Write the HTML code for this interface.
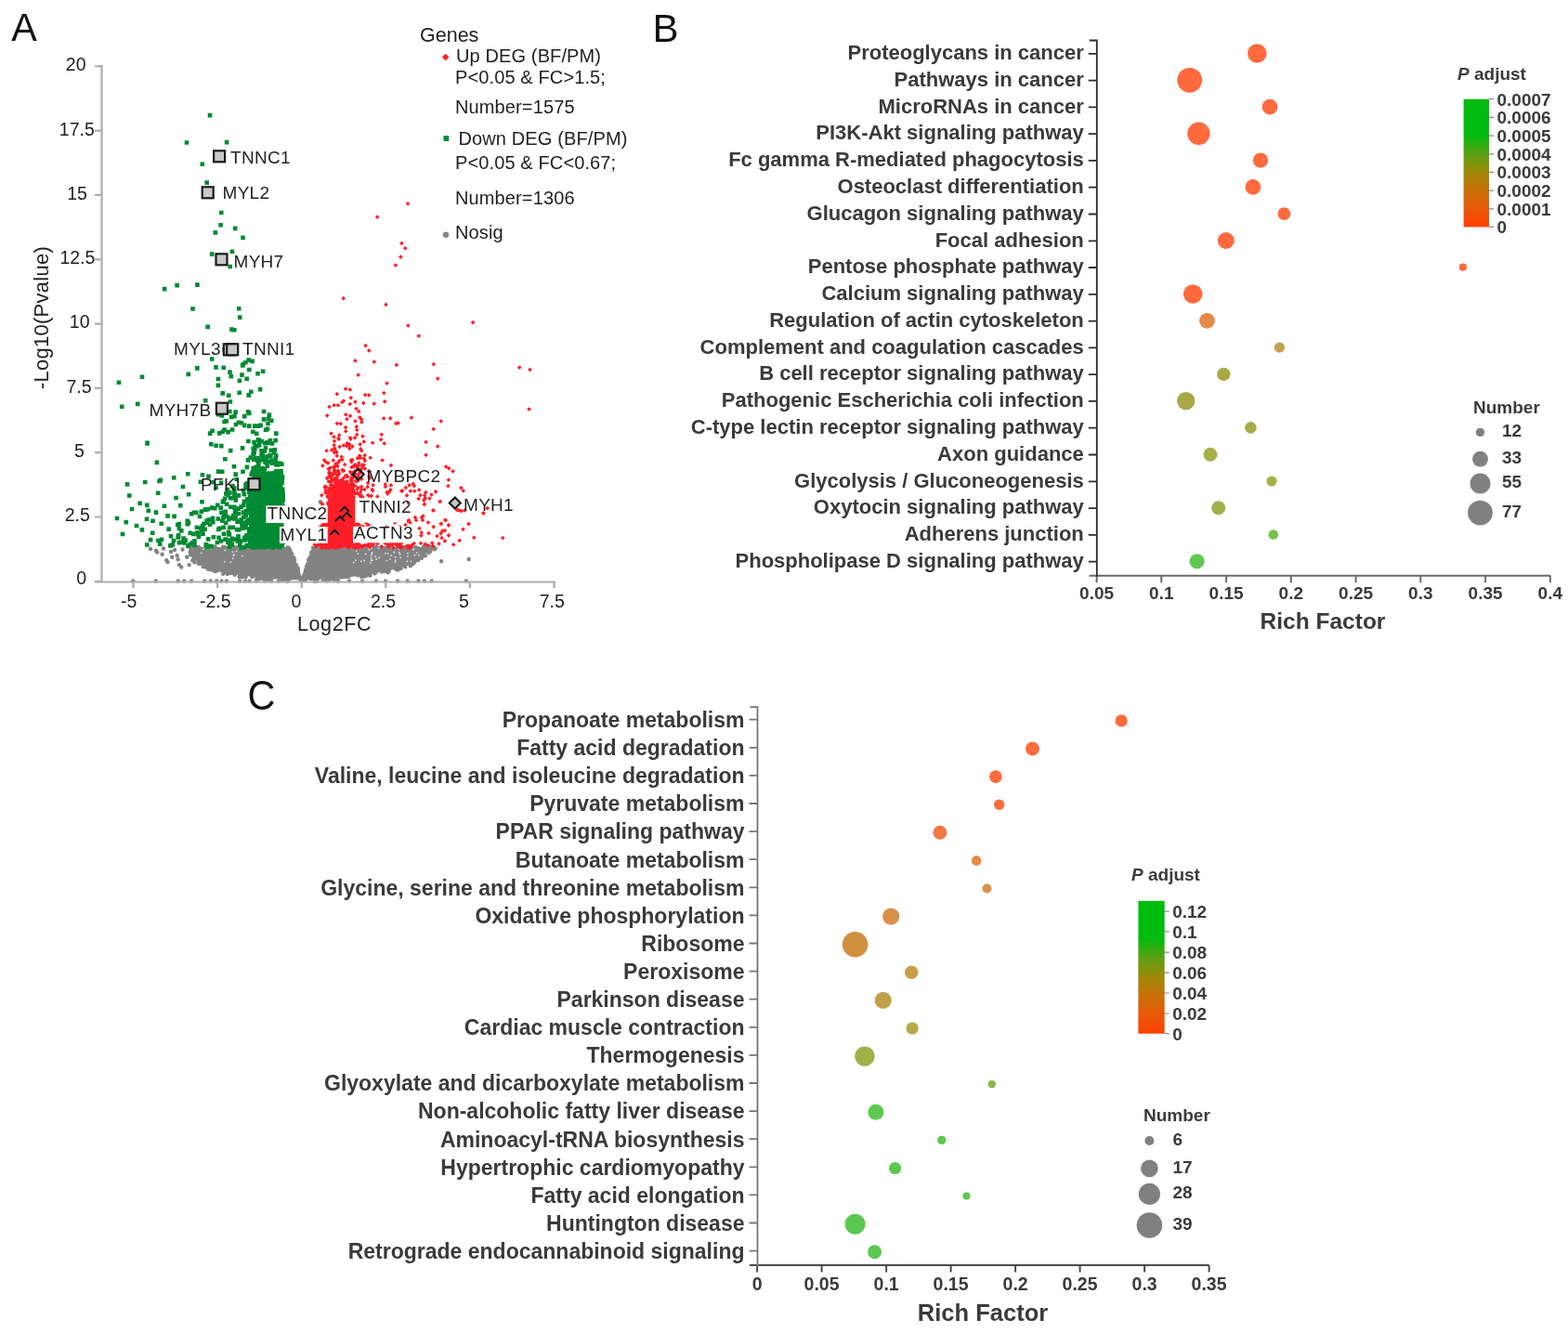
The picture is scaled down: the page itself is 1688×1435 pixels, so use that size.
<!DOCTYPE html>
<html><head><meta charset="utf-8"><title>Figure</title>
<style>html,body{margin:0;padding:0;background:#fff;}svg{display:block;}</style></head>
<body><div id="fig"><svg width="1688" height="1435" viewBox="0 0 1688 1435" font-family="Liberation Sans, Arial, sans-serif"><text transform="translate(12.3,44) scale(0.96,1)" font-size="43" fill="#111">A</text><text x="702.5" y="45" font-size="42" fill="#111">B</text><text transform="translate(266.6,763.6) scale(0.93,1)" font-size="44.5" fill="#111">C</text><path d="M208.0 589.0 313.0 589.0 324.7 620.5 336.5 589.0 468.0 589.0 468.0 589.0 463.6 592.3 459.2 595.5 454.8 598.7 450.4 601.9 446.0 605.0 441.6 608.1 437.2 609.6 432.7 610.7 428.3 611.8 423.9 612.9 419.5 613.9 415.1 614.8 410.7 615.7 406.3 616.6 401.9 617.4 397.5 618.1 393.1 618.9 388.7 619.5 384.3 620.2 379.9 620.8 375.5 621.3 371.1 621.8 366.6 622.3 362.2 622.7 357.8 623.0 353.4 623.3 349.0 623.6 344.6 623.8 340.2 624.0 335.8 624.2 331.4 624.2 327.0 624.3 322.6 624.3 318.2 624.3 313.8 624.2 309.4 624.0 304.9 623.8 300.5 623.6 296.1 623.4 291.7 623.0 287.3 622.7 282.9 622.3 278.5 621.8 274.1 621.3 269.7 620.8 265.3 620.2 260.9 619.6 256.5 618.9 252.1 618.2 247.7 617.4 243.3 616.6 238.8 615.7 234.4 614.8 230.0 613.8 225.6 611.6 221.2 609.4 216.8 607.1 212.4 604.8 208.0 602.5Z" fill="#838383"/><path d="M442.8 590.7h0M284.5 589.3h0M422.6 588.5h0M285.3 590.1h0M468.8 590.4h0M467.1 590.7h0M367.3 589.1h0M341.4 588.6h0M371.7 591.7h0M270.6 590.2h0M388.4 589.2h0M206.0 589.8h0M275.9 589.0h0M429.5 590.3h0M229.2 591.1h0M435.9 590.3h0M220.7 590.6h0M244.8 589.6h0M464.4 589.8h0M374.1 590.6h0M383.0 589.3h0M380.5 591.6h0M243.5 590.5h0M351.4 591.7h0M375.0 591.6h0M437.2 588.6h0M290.4 590.4h0M303.6 588.6h0M461.3 588.9h0M343.8 590.0h0M361.4 589.7h0M342.6 589.7h0M404.5 588.5h0M371.5 588.5h0M397.4 590.3h0M301.2 589.2h0M456.3 589.7h0M464.8 590.1h0M442.6 590.3h0M449.5 589.9h0M418.6 589.4h0M310.5 589.7h0M234.8 591.4h0M362.6 590.2h0M459.8 589.6h0M373.3 590.7h0M398.4 591.4h0M417.5 591.7h0M447.6 590.3h0M210.4 588.6h0M254.7 589.4h0M361.5 588.6h0M210.6 590.9h0M347.7 591.8h0M366.8 590.8h0M215.5 590.5h0M431.3 591.9h0M289.3 589.7h0M416.3 590.7h0M416.2 591.5h0M438.9 591.2h0M374.3 590.5h0M380.2 588.8h0M417.9 591.4h0M434.8 591.0h0M212.1 589.1h0M272.0 589.8h0M231.8 590.8h0M380.5 589.0h0M303.5 589.8h0M270.6 589.3h0M226.6 590.1h0M284.4 590.5h0M239.7 591.2h0M286.2 589.4h0M254.6 590.7h0M304.5 591.6h0M397.7 588.8h0M383.7 591.4h0M342.5 588.7h0M275.6 589.2h0M442.6 591.1h0M416.9 589.1h0M410.9 591.5h0M253.9 590.7h0M396.1 591.2h0M348.7 591.5h0M396.2 590.4h0M448.7 591.4h0M393.9 589.0h0M237.7 591.7h0M235.9 592.0h0M447.3 589.2h0M222.9 591.2h0M288.2 588.6h0M309.4 589.4h0M213.8 588.9h0M251.7 588.9h0M253.7 590.2h0M344.6 589.4h0M371.6 590.3h0M414.6 589.9h0M241.1 589.1h0M454.5 591.9h0M260.1 591.9h0M447.5 590.2h0M364.0 589.6h0M424.7 591.2h0M430.2 591.0h0M284.9 591.1h0M341.3 589.0h0M357.5 591.9h0M417.5 589.5h0M456.9 590.8h0M388.4 590.0h0M382.5 589.7h0M408.8 590.4h0M398.7 590.3h0M224.7 590.4h0M256.8 589.3h0M351.7 591.0h0M369.4 590.1h0M375.1 590.9h0M310.0 590.5h0M294.6 590.3h0M428.9 589.8h0M393.9 590.1h0M433.0 589.9h0M381.2 590.5h0M282.6 589.5h0M298.4 592.0h0M304.9 591.6h0M434.6 588.8h0M257.5 590.2h0M424.3 591.4h0M258.4 590.4h0M409.2 591.0h0M421.6 591.1h0M386.0 588.7h0M304.8 590.8h0M286.1 589.5h0M256.8 591.0h0M408.6 589.6h0M378.9 591.7h0M403.8 591.2h0M241.6 589.0h0M459.9 589.5h0M248.7 589.1h0M415.0 589.4h0M382.1 591.6h0M364.1 590.8h0M457.6 589.2h0M288.5 588.9h0M381.5 590.6h0M457.4 590.5h0M340.9 589.7h0M388.9 591.0h0M405.2 591.5h0M240.0 588.8h0M443.1 589.5h0M428.2 613.6h0M312.0 622.4h0M208.8 601.6h0M411.0 615.6h0M271.3 621.1h0M244.8 617.9h0M414.3 614.7h0M385.1 618.6h0M262.8 619.3h0M277.0 623.6h0M450.3 602.9h0M277.3 620.2h0M389.2 620.7h0M241.4 615.5h0M418.3 615.3h0M238.3 613.7h0M341.1 625.5h0M217.1 605.9h0M349.9 623.4h0M426.4 612.9h0M229.8 613.7h0M278.8 620.5h0M405.3 615.3h0M364.9 621.6h0M288.7 621.0h0M370.3 620.8h0M325.3 622.8h0M430.5 611.2h0M283.6 621.8h0M403.5 617.4h0M372.0 620.8h0M399.0 616.0h0M305.6 623.2h0M395.0 619.6h0M388.2 618.6h0M308.0 623.6h0M214.8 607.1h0M456.4 597.2h0M392.1 620.6h0M260.8 621.2h0M396.5 617.5h0M279.9 622.9h0M329.1 623.3h0M429.9 610.0h0M323.6 624.1h0M282.3 622.6h0M286.8 624.4h0M227.9 611.3h0M264.6 621.0h0M277.9 621.7h0M252.6 616.8h0M224.3 612.8h0M328.2 625.1h0M263.3 618.4h0M398.6 619.6h0M446.0 603.4h0M278.4 620.2h0M355.6 622.5h0M338.7 625.8h0M227.4 610.6h0M240.2 617.7h0M436.3 610.3h0M330.3 622.5h0M415.6 615.0h0M225.2 611.2h0M361.5 623.0h0M431.3 612.1h0M431.7 611.7h0M209.5 605.3h0M342.6 622.6h0M303.2 625.0h0M404.1 616.6h0M226.9 613.4h0M276.4 623.2h0M417.7 616.2h0M329.1 623.3h0M324.9 624.1h0M457.9 598.2h0M290.5 624.7h0M218.8 607.6h0M309.2 625.8h0M247.6 617.0h0M229.1 612.8h0M354.5 624.3h0M454.0 599.2h0M357.5 622.8h0M375.0 620.9h0M291.5 622.8h0M355.3 621.8h0M402.1 615.6h0M360.0 623.9h0M415.1 615.1h0M350.0 624.2h0M259.1 620.5h0M358.3 621.9h0M334.7 623.1h0M250.8 617.1h0M367.7 621.4h0M418.8 615.1h0M242.9 616.0h0M348.6 622.9h0M397.3 618.7h0M312.0 622.9h0M277.7 620.2h0M304.0 624.6h0M347.8 624.7h0M385.2 619.2h0M352.3 624.0h0M235.6 613.2h0M419.0 613.6h0M446.4 605.0h0M234.1 613.8h0M272.4 620.5h0M252.8 618.7h0M427.1 612.5h0M442.9 605.8h0M219.4 609.3h0M293.8 621.5h0M257.7 621.0h0M329.1 623.1h0M226.1 604.8h0M205.1 597.2h0M207.3 603.4h0M207.1 597.3h0M214.5 590.6h0M205.8 594.1h0M223.5 603.3h0M231.7 588.4h0M218.6 610.0h0M231.0 594.8h0M220.2 596.7h0M207.9 602.1h0M220.1 602.3h0M233.5 614.6h0M229.5 593.9h0M224.8 600.0h0M220.1 598.7h0M226.6 596.0h0M232.8 604.9h0M221.3 610.6h0M207.1 597.8h0M220.6 605.4h0M213.7 602.5h0M205.4 592.0h0M217.9 599.8h0M213.7 606.6h0M232.1 601.0h0M207.6 594.0h0M214.5 604.6h0M230.9 600.0h0M226.9 609.5h0M228.4 599.6h0M232.6 596.0h0M221.5 589.4h0M233.1 611.0h0M231.8 596.1h0M227.5 591.3h0M220.4 592.1h0M228.1 600.9h0M231.1 610.0h0M207.6 596.1h0M233.5 604.4h0M233.9 601.6h0M229.9 591.6h0M228.6 590.4h0M231.3 615.0h0M231.6 591.6h0M220.0 591.5h0M234.7 601.8h0M232.4 602.3h0M221.7 595.3h0M226.4 590.3h0M205.0 595.2h0M214.8 598.2h0M221.0 591.5h0M234.2 607.8h0M217.4 601.1h0M213.4 601.8h0M218.2 592.2h0M230.4 611.4h0M456.3 594.3h0M442.0 592.8h0M442.7 603.8h0M463.2 593.4h0M441.8 609.3h0M462.3 594.3h0M455.6 595.7h0M456.0 588.4h0M442.4 597.3h0M451.6 590.9h0M450.2 590.8h0M444.5 607.0h0M444.3 605.9h0M447.1 603.5h0M440.7 597.5h0M452.9 592.5h0M442.9 592.5h0M461.5 595.1h0M450.5 596.1h0M451.8 599.8h0M456.2 596.5h0M443.3 590.5h0M445.1 601.3h0M460.9 590.4h0M462.9 588.3h0M442.2 607.1h0M443.3 593.6h0M454.1 597.4h0M455.3 594.6h0M449.9 592.3h0M446.1 596.2h0M467.2 591.3h0M447.6 589.9h0M446.4 592.6h0M454.0 600.8h0M455.4 594.3h0M452.3 591.9h0M442.5 594.6h0M446.9 591.9h0M442.0 595.9h0M168.0 592.7h0M169.2 594.5h0M174.6 596.8h0M179.3 603.3h0M180.5 605.1h0M184.0 593.9h0M185.2 599.8h0M190.6 598.0h0M191.7 602.2h0M192.9 608.1h0M195.3 610.5h0M196.5 591.5h0M201.2 599.8h0M203.6 608.1h0M204.8 593.9h0M207.1 596.2h0M344.9 540.2h0M475.1 604.3h0M504.7 602.0h0M162.0 591.0h0M176.0 590.5h0M188.0 592.0h0M143.2 625.5h0M167.7 625.5h0M191.7 625.5h0M198.3 625.5h0M206.0 625.5h0M220.2 625.5h0M226.7 625.5h0M233.2 625.5h0M238.5 625.5h0M243.9 625.5h0M258.1 625.5h0M264.0 625.5h0M268.7 625.5h0M275.9 625.5h0M285.0 625.5h0M292.0 625.5h0M300.0 625.5h0M310.0 625.5h0M340.0 625.5h0M352.0 625.5h0M364.0 625.5h0M376.0 625.5h0M390.0 625.5h0M405.0 625.5h0M415.0 625.5h0M428.0 625.5h0M438.6 625.5h0M450.4 625.5h0M456.9 625.5h0M464.7 625.5h0M501.9 625.5h0M333.6 602.5h0M313.9 597.6h0M316.4 600.5h0M335.4 599.0h0M333.5 600.3h0M331.1 607.6h0M332.7 603.9h0M335.5 594.9h0M320.4 612.9h0M316.4 604.4h0M332.1 602.8h0M319.3 610.4h0M320.6 611.6h0M319.8 614.5h0M329.2 613.3h0M319.0 609.1h0M318.5 610.6h0M312.1 593.7h0M330.2 610.0h0M314.3 596.6h0M335.6 596.7h0M312.0 592.6h0M315.3 600.9h0M337.0 589.6h0M330.9 608.7h0M319.2 611.4h0M320.0 612.3h0M312.0 592.9h0M318.8 608.2h0M321.0 614.1h0M337.3 590.1h0M335.1 594.8h0M313.9 597.0h0M317.1 602.9h0M335.7 594.2h0M332.6 605.2h0M335.1 599.3h0M319.1 608.7h0M316.5 604.9h0M330.0 609.6h0" stroke="#838383" stroke-width="4.4" stroke-linecap="round" fill="none"/><path d="M429.8 591.5h0M446.4 597.7h0M421.4 598.0h0M393.7 596.5h0M397.5 591.8h0M400.4 595.0h0M416.5 603.6h0M397.4 591.1h0M430.7 596.6h0M388.8 604.3h0M399.8 603.2h0M407.7 590.1h0M422.4 590.2h0M438.4 604.4h0M399.7 600.6h0M383.7 593.1h0M398.6 605.8h0M380.6 605.6h0M392.2 603.4h0M439.0 598.9h0M400.5 596.1h0M438.9 595.8h0M448.8 594.8h0M424.3 594.5h0M442.6 604.3h0M450.9 597.4h0M408.2 600.2h0M425.6 599.7h0M425.2 605.1h0M425.7 603.2h0M414.9 595.7h0M399.7 590.1h0M445.1 591.7h0M404.2 599.1h0M419.9 602.1h0M424.1 594.3h0M431.2 600.3h0M445.4 591.1h0M405.2 602.0h0M383.0 603.2h0M400.8 603.2h0M429.8 594.9h0M417.8 595.9h0M399.6 597.9h0M385.4 596.1h0M251.9 597.1h0M261.0 598.4h0M251.4 598.1h0M226.9 590.4h0M250.7 601.2h0M254.6 593.5h0M223.6 591.0h0M248.4 605.1h0M216.6 595.4h0M257.0 590.7h0M241.7 604.8h0M242.2 592.5h0M218.7 591.2h0M250.3 594.2h0M261.8 590.2h0" stroke="#ffffff" stroke-width="1.8" stroke-linecap="round" fill="none" opacity="0.8"/><path d="M357 522L368 516L378 521L380 589L346 589L349 562L354 540Z" fill="#ff1e27"/><path transform="rotate(45)" d="M616.1 91.2h0M661.6 166.0h0M662.3 110.0h0M639.4 132.7h0M687.1 146.2h0M651.3 127.4h0M662.7 128.3h0M632.6 113.7h0M639.6 128.2h0M663.3 150.1h0M599.1 103.7h0M634.0 88.0h0M652.4 116.4h0M630.8 108.8h0M666.0 139.6h0M653.4 116.2h0M651.6 127.5h0M677.1 145.5h0M659.1 119.3h0M635.5 90.3h0M627.2 108.7h0M664.3 143.7h0M625.7 114.0h0M662.0 172.2h0M675.0 138.7h0M616.8 116.4h0M605.2 73.8h0M623.1 122.5h0M646.8 124.9h0M677.2 148.9h0M637.7 138.8h0M663.6 127.0h0M630.3 119.5h0M648.9 144.7h0M666.3 107.1h0M657.7 146.7h0M630.8 128.7h0M624.1 121.6h0M635.0 136.2h0M645.3 123.0h0M649.7 130.5h0M654.7 162.9h0M664.7 151.4h0M648.4 138.8h0M649.3 103.1h0M650.5 135.9h0M677.6 144.3h0M658.5 161.8h0M639.8 99.5h0M658.4 135.2h0M646.5 104.8h0M651.1 112.9h0M635.7 132.3h0M597.1 103.4h0M670.9 158.4h0M660.2 152.2h0M618.4 67.9h0M640.2 105.3h0M632.1 131.3h0M658.3 110.1h0M586.7 78.3h0M657.1 133.7h0M666.4 124.7h0M641.0 128.8h0M660.3 156.7h0M684.6 147.3h0M604.1 96.8h0M656.3 158.0h0M666.4 141.7h0M658.4 114.4h0M622.5 121.6h0M658.2 137.5h0M658.3 122.0h0M648.4 160.0h0M676.6 149.4h0M655.6 116.8h0M623.2 87.9h0M643.6 98.6h0M613.7 105.1h0M631.4 96.1h0M659.7 167.3h0M650.3 148.8h0M630.7 78.3h0M642.1 130.2h0M644.9 135.1h0M670.7 152.3h0M667.2 163.1h0M649.9 110.9h0M646.9 133.7h0M645.1 124.6h0M654.3 152.0h0M659.0 137.8h0M599.8 66.6h0M657.3 142.1h0M669.5 156.1h0M635.7 132.6h0M637.6 138.9h0M617.5 105.1h0M658.7 139.8h0M653.9 153.3h0M630.3 79.0h0M671.5 153.0h0M668.9 131.1h0M653.9 112.5h0M669.6 148.3h0M625.2 84.8h0M630.1 103.3h0M609.5 101.4h0M654.5 120.1h0M611.9 97.9h0M603.3 63.1h0M670.0 154.0h0M637.2 114.2h0M644.0 147.1h0M667.9 165.0h0M644.9 109.8h0M663.5 151.6h0M679.1 124.2h0M654.9 136.4h0M653.0 112.4h0M636.4 119.9h0M680.4 143.6h0M650.0 163.8h0M629.8 112.7h0M655.7 111.7h0M679.3 139.0h0M671.8 128.9h0M652.3 126.4h0M659.9 127.5h0M675.3 139.4h0M664.1 169.3h0M655.9 120.3h0M650.8 114.1h0M676.6 126.8h0M673.8 144.1h0M680.0 145.3h0M645.5 120.2h0M607.7 87.7h0M653.1 122.9h0M661.9 146.2h0M640.4 111.5h0M640.5 117.3h0M639.8 127.7h0M661.5 145.1h0M642.0 127.6h0M646.4 152.4h0M631.2 90.4h0M600.7 88.1h0M655.3 134.8h0M661.2 168.0h0M591.3 76.0h0M647.1 121.3h0M632.5 94.6h0M625.3 126.1h0M666.3 158.8h0M600.7 77.4h0M650.1 132.0h0M675.5 156.7h0M675.0 146.3h0M618.4 96.9h0M651.5 150.2h0M651.5 144.3h0M632.6 98.9h0M653.8 163.8h0M654.8 153.6h0M662.9 154.4h0M653.4 109.4h0M649.3 110.1h0M685.0 144.1h0M650.3 123.4h0M656.6 117.0h0M650.4 131.8h0M660.7 158.8h0M674.0 155.9h0M628.7 88.7h0M652.3 130.9h0M647.9 113.6h0M645.4 133.9h0M630.2 109.2h0M672.4 156.1h0M661.8 153.6h0M650.4 148.1h0M669.4 152.1h0M680.6 139.0h0M622.1 117.3h0M657.1 162.6h0M674.6 144.0h0M659.7 161.6h0M664.6 125.6h0M661.0 153.3h0M632.4 112.0h0M671.8 134.1h0M639.7 116.8h0M670.3 147.2h0M660.9 167.9h0M629.0 122.4h0M636.0 132.4h0M637.0 114.8h0M651.6 154.2h0M656.6 120.7h0M641.1 126.0h0M644.8 126.5h0M649.0 116.5h0M645.2 119.7h0M613.0 111.7h0M642.9 113.7h0M674.4 136.7h0M641.6 133.3h0M667.8 155.1h0M644.5 104.9h0M617.1 103.2h0M670.9 152.2h0M654.9 118.1h0M662.8 135.7h0M665.5 168.4h0M668.2 142.4h0M646.6 134.4h0M656.6 171.2h0M675.3 140.9h0M626.0 111.8h0M660.2 143.6h0M667.7 161.4h0M616.6 104.3h0M678.1 148.3h0M671.2 136.4h0M633.2 133.8h0M648.4 124.9h0M607.6 106.1h0M661.4 131.7h0M656.2 151.0h0M614.3 110.5h0M625.7 106.0h0M672.6 148.0h0M659.4 142.2h0M669.8 159.1h0M650.1 95.2h0M655.1 137.5h0M635.1 90.7h0M640.7 126.7h0M649.1 133.2h0M659.0 141.0h0M661.7 106.0h0M678.1 145.5h0M656.0 124.1h0M641.7 107.9h0M646.1 125.5h0M643.0 132.6h0M676.4 147.3h0M659.4 120.6h0M627.6 98.1h0M616.2 112.0h0M631.7 117.3h0M625.6 98.1h0M664.9 123.6h0M659.4 147.8h0M652.5 126.2h0M638.4 93.4h0M644.5 120.8h0M656.7 116.3h0M634.7 128.2h0M647.7 151.6h0M604.2 72.1h0M651.9 129.0h0M657.5 130.4h0M618.3 81.7h0M659.6 141.4h0M666.9 152.4h0M625.8 92.5h0M659.1 127.0h0M667.0 133.6h0M650.6 151.9h0M645.3 132.2h0M670.6 158.6h0M683.5 146.1h0M634.1 129.2h0M653.0 139.7h0M666.2 145.1h0M672.8 156.2h0M649.3 147.1h0M633.2 115.6h0M652.4 133.6h0M636.3 122.4h0M691.9 140.6h0M653.2 103.3h0M677.0 150.5h0M665.0 147.9h0M660.4 127.2h0M680.2 145.8h0M627.5 82.8h0M652.6 152.7h0M630.6 108.7h0M662.9 157.0h0M676.2 153.1h0M589.5 72.9h0M634.3 85.2h0M662.6 169.4h0M671.8 159.2h0M663.4 120.7h0M678.8 134.7h0M681.0 147.9h0M677.0 149.3h0M615.7 100.8h0M626.4 115.3h0M639.4 78.1h0M647.8 113.2h0M637.8 102.1h0M678.3 137.6h0M644.0 149.0h0M628.1 115.2h0M674.0 126.1h0M648.4 153.1h0M640.3 138.3h0M664.5 157.0h0M665.1 158.5h0M655.3 158.9h0M659.7 164.4h0M635.3 136.4h0M637.0 112.8h0M608.1 71.6h0M652.5 159.2h0M656.4 116.2h0M656.5 142.0h0M630.8 77.0h0M673.4 131.3h0M645.7 128.0h0M654.9 115.8h0M634.0 117.8h0M677.5 148.2h0M641.9 149.3h0M624.4 83.3h0M660.9 122.7h0M668.5 129.2h0M623.0 74.1h0M633.2 111.4h0M609.0 92.2h0M637.8 119.7h0M668.4 161.4h0M657.1 164.5h0M659.0 127.2h0M647.0 126.4h0M652.0 147.4h0M629.4 113.0h0M649.0 127.1h0M630.5 91.5h0M667.3 153.0h0M667.2 122.0h0M635.9 123.0h0M661.8 162.4h0M632.4 128.4h0M679.3 146.5h0M595.1 90.0h0M668.9 162.4h0M632.7 113.8h0M670.4 153.6h0M625.6 79.3h0M635.3 124.9h0M620.6 73.1h0M637.5 91.2h0M666.6 128.5h0M650.7 102.9h0M624.2 68.9h0M625.3 114.5h0M682.2 148.5h0M645.6 152.1h0M661.5 163.6h0M656.5 114.1h0M653.6 122.8h0M614.1 103.5h0M642.0 121.5h0M668.5 156.7h0M638.0 111.7h0M687.0 142.9h0M679.0 141.0h0M613.2 59.1h0M634.7 134.0h0M674.0 146.5h0M648.7 149.3h0M664.6 148.4h0M656.7 134.0h0M660.3 118.0h0M669.1 155.3h0M644.3 143.5h0M646.2 154.6h0M622.3 108.7h0M665.6 155.2h0M634.1 122.2h0M644.1 121.9h0M625.0 115.4h0M645.7 112.7h0M659.3 159.7h0M618.7 114.1h0M679.1 151.2h0M657.2 171.6h0M658.1 156.4h0M640.9 132.2h0M653.0 138.4h0M650.5 90.8h0M653.0 137.7h0M643.1 147.3h0M671.2 156.3h0M658.4 156.7h0M649.4 136.8h0M639.3 124.9h0M632.0 104.8h0M619.3 112.6h0M628.4 128.8h0M648.8 146.4h0M649.7 142.2h0M648.3 125.2h0M665.6 158.9h0M651.3 135.0h0M646.9 146.5h0M664.6 158.9h0M632.1 97.1h0M646.3 113.7h0M632.6 93.0h0M647.1 103.5h0M653.7 119.5h0M633.7 115.0h0M646.0 151.7h0M656.4 175.1h0M664.4 159.1h0M656.4 122.2h0M655.8 135.4h0M673.3 137.6h0M634.2 98.2h0M669.7 162.6h0M651.4 121.7h0M639.0 126.1h0M657.8 128.6h0M645.0 142.3h0M654.3 102.3h0M625.5 102.8h0M675.8 140.7h0M666.0 149.9h0M658.8 170.9h0M673.6 142.0h0M636.1 104.7h0M640.2 145.7h0M677.3 150.7h0M632.9 97.4h0M593.2 84.6h0M667.7 149.5h0M630.0 93.6h0M647.0 127.2h0M644.8 142.0h0M672.0 159.3h0M627.3 123.6h0M635.6 110.4h0M652.3 143.8h0M660.4 146.5h0M673.4 149.2h0M647.5 97.4h0M643.6 115.5h0M620.9 117.5h0M636.1 127.3h0M668.3 165.3h0M666.4 149.0h0M645.8 136.8h0M652.4 144.5h0M656.8 172.8h0M662.6 144.4h0M654.0 166.4h0M643.3 120.7h0M653.1 135.9h0M609.6 94.3h0M630.1 110.7h0M655.9 134.2h0M592.2 76.4h0M676.8 154.9h0M678.0 146.5h0M638.6 122.2h0M640.0 104.9h0M646.9 146.0h0M620.1 96.6h0M638.9 140.6h0M650.6 135.4h0M645.2 145.9h0M637.1 95.4h0M633.5 117.0h0M643.9 129.5h0M653.0 132.3h0M659.6 136.2h0M597.6 87.5h0M619.7 109.9h0M659.3 166.6h0M614.8 107.6h0M673.7 156.6h0M672.6 151.6h0M636.0 111.7h0M656.9 134.8h0M602.1 102.9h0M657.7 161.0h0M638.4 108.1h0M667.9 157.5h0M642.6 104.1h0M635.1 121.8h0M617.5 83.0h0M608.7 97.6h0M672.6 144.9h0M659.1 121.2h0M658.8 119.3h0M639.5 129.1h0M672.6 133.6h0M668.1 166.2h0M644.4 116.1h0M628.5 72.8h0M667.3 143.6h0M643.0 115.1h0M685.7 141.2h0M643.7 111.5h0M603.4 75.5h0M665.3 106.7h0M671.9 132.3h0M687.2 143.4h0M665.9 163.9h0M655.1 122.1h0M628.9 108.1h0M635.6 99.5h0M676.7 145.9h0M640.7 119.0h0M608.2 56.0h0M659.6 129.6h0M654.3 125.1h0M658.4 141.4h0M652.6 142.5h0M644.7 150.2h0M613.1 115.1h0M656.7 119.6h0M663.5 150.6h0M629.6 120.1h0M626.5 124.3h0M662.7 161.1h0M667.8 129.7h0M627.6 116.1h0M660.6 149.2h0M607.4 104.6h0M611.9 103.2h0M676.8 151.8h0M679.8 138.8h0M652.1 125.0h0M622.3 111.6h0M643.3 136.5h0M630.5 102.6h0M666.6 134.2h0M628.9 121.4h0M659.5 152.5h0M596.2 53.5h0M643.4 120.6h0M652.7 163.0h0M624.7 111.6h0M662.4 164.4h0M645.7 147.0h0M655.6 154.5h0M662.8 133.4h0M635.1 100.4h0M651.0 102.3h0M641.7 112.8h0M655.3 167.3h0M659.0 170.4h0M681.9 148.6h0M626.4 108.0h0M651.9 163.0h0M667.3 146.2h0M623.5 87.5h0M646.0 156.4h0M660.0 127.7h0M656.9 170.6h0M639.4 135.8h0M670.2 150.6h0M659.2 152.6h0M664.6 136.1h0M678.2 147.2h0M653.9 149.7h0M665.1 146.2h0M658.7 133.9h0M637.9 94.5h0M657.9 162.0h0M667.4 163.4h0M639.2 134.5h0M654.7 153.4h0M643.2 126.7h0M668.2 156.5h0M618.2 115.1h0M640.5 140.7h0M672.1 126.2h0M661.5 136.3h0M615.6 111.3h0M659.9 133.3h0M661.8 134.1h0M664.4 140.4h0M666.0 137.5h0M636.1 107.6h0M644.4 126.3h0M649.4 121.8h0M677.0 137.8h0M654.9 114.8h0M639.2 137.9h0M670.2 135.3h0M660.5 140.0h0M649.5 149.0h0M649.0 146.4h0M668.4 125.7h0M627.0 81.5h0M643.6 81.6h0M647.1 146.7h0M648.9 153.6h0M644.2 127.9h0M663.8 166.9h0M644.9 122.6h0M631.8 127.0h0M644.0 117.4h0M672.0 154.0h0M625.0 109.6h0M656.4 162.2h0M664.5 135.8h0M647.5 137.0h0M668.9 147.4h0M621.7 75.0h0M624.8 106.6h0M640.8 137.6h0M620.1 106.9h0M670.6 147.2h0M668.8 145.0h0M661.6 146.6h0M629.0 106.1h0M653.6 132.2h0M658.8 170.9h0M641.6 138.8h0M641.6 114.6h0M651.7 127.7h0M656.0 151.7h0M689.1 126.8h0M635.3 123.7h0M667.0 147.8h0M649.4 157.6h0M645.4 118.8h0M642.8 119.8h0M679.1 138.2h0M663.3 121.5h0M668.0 165.4h0M647.1 132.4h0M661.3 165.9h0M646.2 148.7h0M643.3 129.4h0M610.3 89.3h0M676.1 145.9h0M598.7 81.4h0M637.1 126.2h0M656.2 169.7h0M647.7 141.0h0M665.9 156.1h0M667.6 163.9h0M666.3 164.2h0M652.9 149.7h0M652.8 125.7h0M652.2 118.8h0M669.2 160.0h0M632.7 104.0h0M635.9 117.2h0M645.1 129.9h0M610.2 108.8h0M655.9 147.9h0M636.7 135.3h0M688.3 145.7h0M642.1 121.5h0M635.0 131.8h0M662.2 123.8h0M642.2 125.8h0M660.3 151.1h0M633.8 127.7h0M665.1 133.0h0M663.1 125.4h0M676.4 148.1h0M644.6 130.6h0M662.1 157.0h0M655.5 167.1h0M658.0 164.9h0M648.3 147.3h0M653.2 159.7h0M649.7 155.6h0M675.5 141.0h0M657.4 159.5h0M630.3 110.4h0M673.9 137.2h0M672.5 155.3h0M667.1 157.5h0M665.0 164.6h0M660.6 132.7h0M602.0 73.0h0M658.8 150.7h0M680.5 119.1h0M655.5 128.5h0M666.4 125.3h0M660.8 116.0h0M668.0 148.3h0M682.0 146.7h0M698.9 131.4h0M665.3 161.6h0M641.0 128.6h0M602.5 59.2h0M595.9 86.5h0M656.7 137.9h0M640.0 129.0h0M652.0 120.2h0M644.5 132.3h0M659.7 145.0h0M629.2 85.0h0M682.3 151.8h0M646.6 147.4h0M678.8 142.2h0M619.7 97.3h0M659.0 148.5h0M679.1 142.1h0M648.8 114.9h0M621.0 76.7h0M642.5 138.6h0M650.5 152.2h0M662.0 121.6h0M663.3 153.5h0M641.5 105.0h0M681.7 149.7h0M671.0 128.8h0M658.7 156.5h0M661.5 166.1h0M642.7 133.4h0M662.3 147.4h0M646.8 116.0h0M625.3 99.3h0M646.3 146.3h0M668.6 148.2h0M643.6 132.1h0M639.8 89.4h0M646.6 129.5h0M647.2 146.2h0M682.2 151.8h0M668.1 151.2h0M611.5 108.6h0M626.2 72.0h0M637.2 123.9h0M661.6 153.7h0M649.4 148.1h0M664.8 126.2h0M634.3 117.4h0M633.9 107.4h0M639.3 113.2h0M653.7 155.2h0M650.7 136.2h0M658.0 148.8h0M651.1 162.8h0M654.7 160.1h0M620.7 53.5h0M675.4 119.1h0M679.0 148.6h0M663.4 157.9h0M626.7 122.3h0M655.9 117.5h0M666.9 148.8h0M638.6 119.6h0M619.2 84.0h0M600.1 108.9h0M661.6 99.5h0M632.8 132.8h0M654.5 156.4h0M599.0 90.0h0M632.1 82.4h0M669.2 153.8h0M641.8 130.6h0M655.8 118.5h0M672.0 152.2h0M666.0 134.6h0M670.5 134.6h0M658.8 162.1h0M629.7 78.3h0M658.6 156.6h0M668.4 146.4h0M662.8 158.7h0M655.7 151.0h0M658.0 121.1h0M687.3 146.6h0M601.0 67.3h0M640.1 116.5h0M582.0 77.8h0M645.7 95.3h0M666.3 165.0h0M635.2 130.8h0M664.3 123.5h0M660.3 148.3h0M643.7 125.3h0M652.1 161.4h0M641.0 144.5h0M660.8 117.8h0M673.5 133.7h0M677.4 136.8h0M635.8 107.6h0M657.0 126.0h0M626.6 121.4h0M650.1 132.3h0M640.3 77.6h0M632.2 82.0h0M634.5 121.3h0M661.7 129.6h0M643.0 127.9h0M610.9 109.8h0M670.6 147.8h0M657.0 151.8h0M639.2 102.1h0M591.7 94.5h0M653.5 125.4h0M652.8 164.5h0M638.5 121.0h0M639.0 122.9h0M630.4 66.5h0M671.9 138.2h0M649.2 109.3h0M674.7 145.3h0M653.5 168.7h0M655.0 124.8h0M667.1 145.2h0M664.0 125.8h0M649.4 118.9h0M658.6 127.6h0M636.9 94.5h0M654.0 125.1h0M657.2 168.9h0M651.4 136.5h0M658.1 130.9h0M649.2 110.3h0M671.3 141.1h0M633.8 125.5h0M645.9 109.6h0M634.4 78.8h0M633.7 111.3h0M648.0 152.8h0M663.5 155.9h0M663.6 147.0h0M657.9 135.3h0M591.5 65.1h0M674.9 147.4h0M661.9 125.8h0M645.7 154.3h0M621.3 116.7h0M603.5 90.5h0M667.9 130.2h0M650.3 146.5h0M649.9 163.8h0M660.8 151.1h0M619.0 103.9h0M623.0 119.7h0M657.6 157.5h0M670.1 162.6h0M650.8 159.5h0M674.6 133.9h0M649.2 141.6h0M651.6 113.9h0M655.1 156.6h0M630.4 123.0h0M634.2 126.1h0M610.4 100.7h0M650.4 136.1h0M645.3 144.9h0M647.5 139.5h0M666.9 140.2h0M652.0 156.5h0M617.9 101.8h0M650.2 129.6h0M667.4 131.9h0M666.6 155.0h0M645.1 153.6h0M665.3 133.3h0M640.3 122.4h0M662.4 160.1h0M653.7 159.1h0M669.6 159.5h0M626.7 120.4h0M619.2 114.0h0M659.0 159.8h0M619.1 109.1h0M677.8 138.3h0M667.8 132.6h0M660.7 162.5h0M688.8 142.6h0M655.3 163.5h0M677.5 139.2h0M652.9 166.2h0M662.1 164.3h0M618.7 102.8h0M662.1 115.7h0M645.7 105.4h0M639.5 138.1h0M643.0 150.6h0M631.4 121.0h0M674.5 151.2h0M640.6 103.5h0M626.5 108.2h0M683.1 146.2h0M633.2 84.9h0M638.3 113.7h0M658.0 131.6h0M660.8 149.8h0M652.4 127.5h0M652.1 152.4h0M664.7 160.2h0M674.7 158.7h0M636.9 113.3h0M639.0 112.6h0M625.9 125.7h0M659.5 127.8h0M638.6 140.5h0M665.4 137.6h0M676.4 148.2h0M629.0 113.6h0M641.4 109.7h0M672.0 140.4h0M601.7 73.5h0M627.6 129.0h0M649.9 161.1h0M627.7 92.6h0M674.6 149.2h0M649.0 140.7h0M671.1 158.5h0M626.4 120.3h0M639.6 102.9h0M650.3 120.7h0M653.3 169.5h0M654.9 147.2h0M616.4 67.2h0M635.7 134.0h0M646.7 130.8h0M647.8 117.2h0M645.4 82.4h0M640.5 127.3h0M638.5 100.0h0M655.8 115.5h0M654.5 140.0h0M639.5 118.3h0M660.2 164.3h0M631.9 107.9h0M644.2 140.5h0M663.4 157.5h0M667.3 136.2h0M672.6 161.5h0M654.1 115.5h0M668.9 146.9h0M607.6 75.3h0M680.7 136.5h0M637.9 99.7h0M668.9 122.2h0M664.7 156.4h0M673.1 133.3h0M647.9 154.4h0M664.3 125.8h0M642.7 140.3h0M627.4 124.2h0M657.4 165.9h0M663.6 117.1h0M649.5 143.6h0M632.4 126.5h0M675.0 142.1h0M667.2 164.0h0M649.8 126.9h0M643.1 137.9h0M653.8 138.6h0M637.6 122.7h0M667.2 135.1h0M639.6 128.4h0M630.0 128.9h0M631.0 115.7h0M630.7 102.7h0M590.4 81.2h0M656.7 160.4h0M650.9 144.4h0M661.3 123.3h0M644.2 108.2h0M670.3 137.8h0M650.0 130.2h0M666.4 131.0h0M624.6 112.8h0M670.2 131.9h0M656.8 108.8h0M662.0 162.7h0M621.8 116.6h0M614.9 103.5h0M644.4 114.2h0M632.2 122.5h0M628.8 128.7h0M641.4 125.7h0M607.0 106.9h0M635.5 118.7h0M642.0 124.4h0M612.4 64.1h0M655.7 168.0h0M661.3 167.0h0M630.5 111.9h0M628.6 89.2h0M649.2 137.2h0M599.0 55.6h0M626.2 98.8h0M671.8 147.3h0M675.6 152.7h0M662.6 132.2h0M673.9 150.1h0M641.0 118.0h0M635.3 125.8h0M653.7 134.6h0M654.8 134.8h0M650.1 126.1h0M651.2 147.6h0M662.3 121.7h0M646.1 124.7h0M652.9 165.5h0M654.0 175.0h0M651.6 130.0h0M623.9 84.4h0M662.9 127.6h0M669.0 153.9h0M646.7 155.8h0M672.9 136.2h0M672.5 145.2h0M656.7 163.2h0M645.1 157.4h0M651.1 148.4h0M633.3 106.9h0M625.6 123.9h0M640.1 145.7h0M684.4 144.9h0M648.9 143.6h0M658.9 123.9h0M652.5 157.3h0M647.5 109.0h0M634.7 122.1h0M664.4 139.0h0M651.4 158.1h0M671.6 135.2h0M654.7 154.8h0M668.8 136.5h0M655.3 124.6h0M663.0 141.9h0M586.3 40.1h0M591.7 43.8h0M576.3 35.5h0M583.1 55.0h0M562.8 54.1h0M581.9 63.2h0M594.4 44.2h0M560.4 59.0h0M566.6 45.6h0M591.0 50.2h0M565.3 67.3h0M653.6 104.1h0M649.1 100.5h0M653.3 85.3h0M663.2 103.1h0M671.7 88.7h0M655.8 105.9h0M657.8 103.1h0M664.1 102.6h0M665.3 90.7h0M669.3 80.1h0M691.4 123.9h0M677.2 124.3h0M675.5 86.3h0M679.3 98.9h0M693.6 115.3h0M668.9 107.4h0M663.9 77.0h0M671.5 126.6h0M683.7 127.2h0M680.9 131.5h0M662.0 75.4h0M691.7 124.2h0M682.2 135.9h0M670.7 78.3h0M699.2 121.2h0M672.4 93.4h0M647.8 87.6h0M683.1 129.5h0M657.2 89.8h0M677.1 119.2h0M699.3 110.2h0M658.4 96.6h0M689.5 121.5h0M680.5 122.5h0M697.4 112.0h0M696.6 109.0h0M669.7 101.1h0M693.9 114.5h0M663.7 120.2h0M660.2 94.8h0M696.3 107.3h0M693.2 131.5h0M692.2 130.6h0M671.0 80.8h0M655.8 89.2h0M690.0 115.6h0M690.9 121.5h0M667.5 108.2h0M681.5 110.3h0M679.3 102.1h0M679.6 101.6h0M681.4 99.2h0M657.1 96.7h0M675.3 87.7h0M689.4 98.5h0M688.2 97.6h0M695.4 106.9h0M678.1 84.3h0M671.7 90.9h0M675.9 115.6h0M644.4 100.4h0M682.7 53.7h0M693.5 92.6h0M667.0 71.8h0M714.9 72.9h0M720.3 96.4h0M705.8 96.7h0M685.2 54.6h0M692.2 72.7h0M691.9 53.9h0M728.3 87.1h0M679.5 68.2h0M705.1 48.1h0M687.0 83.6h0M708.3 100.8h0M680.1 62.4h0M680.9 57.8h0M694.3 80.5h0M714.9 70.8h0M688.8 77.5h0M706.9 86.2h0M706.5 52.4h0M686.9 67.5h0M703.6 58.2h0M723.7 71.8h0M703.2 56.7h0M698.5 97.4h0M702.7 55.3h0M689.5 85.3h0M679.8 67.3h0M698.3 95.7h0M698.9 50.6h0M698.3 61.0h0M726.2 84.6h0M707.4 84.8h0M708.2 90.9h0M721.4 83.0h0M670.1 75.6h0M709.9 85.6h0M726.6 104.5h0M719.1 107.9h0M685.6 144.6h0M719.3 109.9h0M713.1 112.9h0M686.6 140.8h0M745.6 85.9h0M722.6 110.4h0M729.0 102.5h0M692.6 137.9h0M695.3 135.4h0M721.7 112.5h0M733.8 93.2h0M712.1 120.2h0M709.3 119.5h0M740.8 89.5h0M712.5 116.2h0M716.3 113.2h0M686.5 145.5h0M711.2 117.7h0M688.1 145.5h0M718.6 113.0h0M728.5 101.9h0M721.7 112.0h0M687.3 146.3h0M692.6 137.5h0M713.2 114.8h0M729.1 105.0h0M726.1 105.3h0M694.5 134.7h0M685.5 143.2h0M717.0 110.5h0M725.7 106.1h0M728.9 98.6h0M701.2 126.5h0M716.3 117.6h0M690.1 141.0h0M697.9 134.8h0M745.2 86.1h0M689.8 143.5h0M737.9 90.6h0M706.4 120.3h0M706.6 125.5h0M710.9 116.2h0M697.8 129.5h0M716.4 111.3h0M685.5 145.5h0M687.7 141.6h0M696.1 131.3h0M742.3 84.3h0M691.9 139.2h0M727.5 106.5h0M623.0 127.1h0M621.6 125.7h0M629.4 138.4h0M623.7 123.4h0M628.0 138.3h0M619.0 122.4h0M632.9 132.5h0M618.6 123.9h0M626.9 128.0h0M621.9 132.1h0M617.8 122.8h0M691.5 86.1h0M688.4 76.9h0M658.5 115.5h0M661.4 112.6h0M664.2 109.8h0M465.5 -155.4h0M452.4 -122.0h0M490.9 -120.6h0M497.5 -119.5h0M500.6 -109.4h0M503.0 -99.2h0M488.5 -34.3h0M525.7 -61.9h0M605.4 -114.6h0M558.6 -62.9h0M574.6 -63.1h0M541.4 -15.2h0M547.8 -14.1h0M545.0 4.2h0M560.2 -9.4h0M579.7 -24.0h0M607.4 -52.8h0M675.1 -115.7h0M684.8 -122.1h0M558.1 12.7h0M621.4 -45.0h0M586.3 -2.8h0M559.1 33.0h0M563.2 30.1h0M556.5 43.4h0M578.6 22.6h0M581.7 19.9h0M591.4 6.9h0M569.9 35.7h0M566.8 43.6h0M565.8 51.1h0M574.0 41.2h0M583.5 30.1h0M592.1 22.5h0M598.6 12.8h0M582.4 39.9h0M578.8 52.3h0M583.2 50.0h0M578.9 65.8h0M596.6 46.0h0M610.7 26.3h0M615.5 21.4h0M631.1 4.7h0M623.8 20.9h0M625.1 19.0h0M656.3 -15.1h0M656.5 -3.4h0M714.2 -91.2h0M588.4 62.3h0M621.3 40.2h0M624.6 44.6h0M630.0 45.0h0M660.7 12.2h0M673.0 6.6h0M670.6 22.1h0M641.4 59.3h0M651.8 56.6h0M694.8 15.7h0M698.3 14.8h0M703.6 14.0h0M706.7 23.9h0M711.1 28.8h0M722.3 20.4h0M726.2 20.9h0M706.0 42.6h0M716.9 47.0h0M718.2 58.8h0M707.0 60.6h0M686.1 61.4h0M689.4 58.2h0M696.9 57.1h0M700.2 53.8h0M758.5 22.8h0M757.9 15.8h0M737.8 39.2h0M742.2 34.8h0M705.9 42.6h0M716.7 46.6h0M718.6 58.5h0M736.1 40.2h0M740.2 37.9h0M735.2 56.8h0M734.7 62.8h0M741.2 58.1h0M755.5 42.0h0M755.4 50.3h0M731.0 71.0h0M741.1 67.4h0M742.5 65.1h0M741.6 70.6h0M749.0 65.9h0M770.1 48.4h0M792.2 26.8h0M761.2 61.6h0M759.8 69.4h0M750.5 73.1h0M748.0 79.8h0M732.2 79.5h0M707.0 60.9h0M709.9 77.8h0M712.8 79.2h0M717.7 74.2h0M758.9 22.5h0M734.7 57.0h0M741.5 58.4h0M734.4 63.2h0M755.6 42.0h0M740.8 75.4h0M745.9 73.2h0M749.2 66.1h0M750.4 73.3h0" stroke="#ff1e27" stroke-width="3.3" stroke-linecap="square" fill="none"/><path d="M277 508L302 507L304.5 589L268.5 589L267.5 530Z" fill="#008a33"/><path d="M273.5 476.0h0M278.2 543.6h0M273.1 494.6h0M295.5 553.5h0M298.4 527.4h0M285.8 587.0h0M275.3 588.7h0M293.0 580.2h0M287.7 588.8h0M268.3 529.9h0M290.1 512.5h0M296.1 563.4h0M302.0 559.6h0M303.2 555.9h0M265.9 502.9h0M277.1 542.2h0M278.2 546.3h0M299.0 557.4h0M282.1 539.2h0M291.8 561.5h0M274.7 480.3h0M285.6 497.8h0M276.0 502.8h0M282.2 559.3h0M278.1 535.9h0M286.7 583.8h0M274.6 503.9h0M285.2 534.3h0M276.4 563.0h0M280.5 551.9h0M287.9 491.5h0M277.9 568.2h0M286.9 518.1h0M271.7 508.4h0M266.8 550.8h0M302.1 566.7h0M292.8 518.2h0M269.3 524.0h0M289.7 562.2h0M281.5 568.1h0M285.0 545.7h0M282.4 561.2h0M297.8 555.1h0M297.3 500.1h0M291.5 557.7h0M270.6 579.7h0M272.2 552.2h0M297.2 569.5h0M272.8 563.6h0M278.0 473.4h0M273.2 548.0h0M281.5 513.7h0M291.9 568.2h0M288.1 514.2h0M277.9 549.8h0M278.7 532.8h0M304.3 544.7h0M299.7 568.3h0M298.2 511.1h0M292.3 550.2h0M302.5 507.1h0M277.0 493.3h0M300.4 531.8h0M273.5 511.1h0M296.6 517.4h0M274.2 522.8h0M260.6 568.6h0M302.3 576.3h0M275.1 577.3h0M281.0 573.7h0M284.8 539.0h0M272.6 569.8h0M292.1 569.1h0M295.1 522.2h0M278.5 537.3h0M273.7 487.4h0M275.0 528.0h0M274.8 515.1h0M280.0 564.3h0M283.6 513.3h0M279.9 495.5h0M288.7 550.7h0M303.0 573.7h0M273.3 516.3h0M302.8 511.4h0M304.2 539.5h0M296.9 539.8h0M290.9 474.4h0M300.5 537.7h0M283.3 565.0h0M303.0 540.4h0M291.6 545.0h0M303.8 587.0h0M293.1 545.4h0M282.2 532.0h0M271.2 567.2h0M275.2 580.9h0M273.0 589.5h0M284.4 587.7h0M290.6 555.5h0M298.7 500.5h0M296.5 582.8h0M296.4 552.6h0M292.9 521.0h0M274.4 574.1h0M300.5 532.3h0M294.2 534.5h0M298.7 560.9h0M303.1 561.6h0M268.6 518.0h0M300.3 540.3h0M300.4 507.1h0M284.4 585.7h0M295.1 509.1h0M287.0 520.9h0M293.8 589.5h0M299.8 535.4h0M287.1 536.2h0M283.2 491.8h0M281.5 490.4h0M294.2 498.0h0M280.8 544.0h0M266.4 537.2h0M275.3 519.9h0M302.1 523.6h0M280.7 588.8h0M304.1 513.5h0M297.8 558.3h0M298.3 551.4h0M292.6 586.0h0M303.9 578.9h0M282.8 494.3h0M267.0 552.1h0M301.8 585.4h0M269.0 525.3h0M286.1 462.7h0M294.1 583.7h0M272.5 531.4h0M272.4 464.8h0M297.0 587.9h0M282.7 525.5h0M283.6 587.5h0M267.1 495.4h0M270.2 556.3h0M270.6 525.5h0M287.6 476.4h0M286.5 586.1h0M304.8 545.6h0M270.9 531.4h0M284.0 546.7h0M285.8 563.1h0M281.4 575.6h0M289.3 476.8h0M303.3 551.7h0M273.8 546.6h0M268.6 562.3h0M285.3 540.4h0M287.7 581.2h0M294.2 565.7h0M279.2 588.9h0M272.0 569.4h0M301.5 498.8h0M278.7 556.5h0M267.3 524.8h0M280.1 513.8h0M297.0 556.4h0M264.6 525.4h0M304.8 583.6h0M275.7 527.3h0M282.1 569.9h0M281.4 524.2h0M300.2 531.9h0M278.8 554.8h0M280.7 518.1h0M290.1 586.4h0M300.8 560.8h0M288.5 517.6h0M281.9 580.0h0M267.9 562.6h0M267.4 545.3h0M270.6 584.0h0M274.1 581.8h0M270.3 526.5h0M289.5 583.2h0M291.4 491.3h0M294.1 542.8h0M293.3 540.2h0M298.7 518.0h0M290.0 509.7h0M273.9 556.4h0M273.5 537.5h0M294.1 551.0h0M293.3 518.3h0M287.4 586.9h0M276.9 480.1h0M267.0 539.2h0M282.2 576.1h0M283.4 577.0h0M284.5 588.9h0M296.0 542.9h0M299.2 516.3h0M303.0 565.1h0M288.0 553.5h0M284.0 588.0h0M278.9 474.4h0M269.8 492.6h0M273.1 541.9h0M293.5 562.2h0M272.5 581.8h0M290.8 584.8h0M288.2 559.6h0M288.7 585.4h0M275.5 512.3h0M278.4 498.7h0M284.4 581.9h0M299.5 554.2h0M289.8 549.1h0M297.4 498.5h0M289.7 513.1h0M301.3 560.3h0M293.6 562.7h0M295.3 582.5h0M292.1 496.0h0M297.3 490.6h0M280.6 577.5h0M294.4 567.8h0M291.2 566.2h0M279.1 580.6h0M301.1 553.9h0M274.0 575.1h0M270.7 553.8h0M302.3 515.0h0M293.8 565.9h0M304.7 537.9h0M290.6 490.1h0M270.5 556.9h0M292.2 452.8h0M269.5 559.2h0M269.2 569.9h0M276.7 528.0h0M279.5 580.7h0M272.7 482.9h0M285.7 564.0h0M288.2 523.8h0M290.1 566.0h0M270.2 576.6h0M294.3 586.6h0M301.5 568.0h0M289.8 550.5h0M273.4 525.7h0M286.4 567.7h0M296.7 522.4h0M267.2 523.5h0M290.6 563.3h0M272.1 578.6h0M304.6 531.6h0M269.7 544.3h0M292.3 574.7h0M290.5 511.2h0M276.7 562.1h0M277.4 557.3h0M282.0 537.0h0M281.7 475.0h0M272.7 546.8h0M294.8 574.4h0M273.4 557.8h0M277.0 568.2h0M289.5 586.9h0M296.2 531.9h0M279.4 544.8h0M301.4 588.1h0M284.2 525.9h0M278.7 561.3h0M269.8 586.6h0M277.5 554.8h0M272.6 511.2h0M300.7 589.2h0M276.6 510.6h0M269.4 548.4h0M301.7 518.1h0M269.1 582.4h0M284.0 519.6h0M301.3 563.4h0M298.2 524.3h0M269.9 543.8h0M267.3 560.0h0M293.4 548.3h0M298.4 558.2h0M278.3 571.3h0M294.6 586.1h0M296.0 524.4h0M288.8 557.5h0M270.3 588.2h0M272.4 571.4h0M269.3 535.4h0M279.9 531.5h0M301.2 510.1h0M279.6 525.7h0M287.4 582.7h0M289.3 533.1h0M293.7 569.0h0M290.2 553.6h0M285.3 544.7h0M270.0 583.6h0M279.3 526.6h0M296.6 493.9h0M268.2 572.8h0M299.9 557.5h0M297.4 555.7h0M303.4 499.7h0M286.1 585.1h0M301.6 515.1h0M252.0 502.3h0M292.5 544.2h0M280.2 579.7h0M302.0 511.0h0M290.9 526.6h0M284.8 485.4h0M274.9 526.5h0M274.2 510.1h0M288.8 588.2h0M293.2 527.0h0M287.3 498.6h0M304.3 526.9h0M291.6 551.7h0M278.7 523.3h0M302.2 531.1h0M287.5 552.7h0M279.9 584.0h0M290.9 542.3h0M270.4 560.3h0M275.5 506.2h0M289.6 512.1h0M291.8 520.9h0M287.9 501.6h0M300.1 567.7h0M284.0 528.4h0M291.8 556.1h0M296.9 542.6h0M297.8 508.1h0M276.5 552.2h0M277.1 560.1h0M291.2 497.2h0M283.1 518.9h0M271.0 565.7h0M272.3 556.0h0M290.8 536.0h0M298.1 529.0h0M287.6 497.5h0M289.1 560.3h0M290.0 552.5h0M273.4 529.6h0M270.0 538.2h0M300.4 522.4h0M279.3 569.9h0M281.8 553.8h0M274.0 544.5h0M286.6 496.1h0M294.3 528.3h0M293.9 537.0h0M286.9 533.2h0M293.0 477.5h0M284.3 565.6h0M280.8 541.7h0M277.9 515.8h0M276.4 517.8h0M300.3 537.6h0M274.8 493.1h0M264.5 522.0h0M290.5 532.5h0M295.1 550.7h0M279.1 541.8h0M283.4 493.1h0M300.0 573.0h0M282.6 515.3h0M269.3 578.2h0M268.4 569.4h0M267.3 541.3h0M297.3 543.4h0M285.3 569.0h0M275.8 560.1h0M272.0 541.6h0M283.4 494.9h0M278.4 529.1h0M293.7 568.2h0M291.8 484.7h0M279.2 581.5h0M279.4 534.4h0M267.8 537.3h0M285.0 504.8h0M293.1 544.4h0M301.4 563.0h0M271.0 542.5h0M290.7 583.0h0M270.5 517.0h0M300.3 569.7h0M300.9 510.2h0M272.7 504.1h0M296.3 541.3h0M303.5 520.0h0M300.7 550.1h0M278.0 501.8h0M281.9 523.6h0M295.9 484.3h0M280.9 537.2h0M297.3 466.6h0M278.9 507.6h0M286.0 482.0h0M289.2 524.3h0M300.1 552.8h0M290.7 527.1h0M268.6 580.8h0M277.2 553.5h0M289.1 568.1h0M294.4 552.5h0M276.4 546.8h0M282.7 504.0h0M290.6 540.0h0M282.5 487.1h0M277.0 541.1h0M296.6 474.1h0M296.7 583.9h0M270.7 510.7h0M274.8 586.0h0M296.0 518.9h0M281.0 582.7h0M262.9 532.3h0M293.1 564.3h0M297.5 507.1h0M275.1 532.7h0M298.5 565.3h0M287.7 556.9h0M277.4 496.2h0M301.2 565.2h0M273.9 555.0h0M303.2 564.0h0M277.5 540.0h0M273.5 562.1h0M273.8 581.6h0M293.3 498.7h0M300.4 557.2h0M298.4 573.2h0M280.9 588.5h0M278.6 566.6h0M273.3 487.3h0M294.9 534.0h0M269.7 586.0h0M296.6 572.1h0M275.5 541.4h0M276.5 545.3h0M303.8 516.8h0M285.1 477.0h0M278.1 548.1h0M301.4 574.4h0M295.7 569.2h0M303.6 545.3h0M273.3 523.8h0M281.0 560.7h0M279.7 510.4h0M282.4 579.8h0M284.0 507.1h0M300.1 530.2h0M271.6 556.6h0M274.0 513.6h0M274.7 547.7h0M293.5 530.3h0M274.3 483.2h0M262.8 567.7h0M297.0 587.8h0M290.7 571.6h0M276.2 466.9h0M301.0 566.3h0M278.4 507.8h0M286.4 548.0h0M272.6 488.7h0M277.7 508.9h0M299.8 568.8h0M276.8 584.6h0M291.4 533.7h0M289.2 518.6h0M275.2 566.2h0M291.0 514.1h0M283.9 527.7h0M286.5 541.1h0M273.1 508.6h0M298.6 544.9h0M270.8 557.7h0M283.9 585.2h0M292.7 536.6h0M283.0 580.2h0M277.7 576.8h0M279.5 518.1h0M284.7 546.3h0M275.0 559.0h0M275.1 479.8h0M280.8 505.2h0M297.5 558.9h0M281.6 536.2h0M276.3 523.5h0M294.2 567.5h0M278.4 523.7h0M268.2 547.8h0M271.2 549.7h0M293.0 533.5h0M293.4 553.9h0M282.6 516.6h0M277.0 588.3h0M289.0 450.9h0M265.5 576.2h0M297.3 517.0h0M292.8 557.5h0M268.7 539.1h0M287.4 566.1h0M304.1 529.9h0M297.4 579.2h0M287.0 555.2h0M298.9 560.1h0M279.1 479.1h0M283.1 526.2h0M281.3 516.5h0M273.3 587.2h0M297.9 561.6h0M295.1 487.5h0M287.4 520.2h0M268.3 572.4h0M291.7 533.0h0M281.5 485.3h0M290.3 571.2h0M300.5 550.7h0M300.7 565.0h0M304.7 534.6h0M299.1 581.3h0M271.3 546.9h0M288.3 587.7h0M302.9 564.3h0M281.9 529.3h0M247.3 443.0h0M263.3 448.1h0M243.7 443.3h0M249.1 448.9h0M267.1 443.3h0M261.0 482.4h0M239.8 464.7h0M226.1 466.6h0M248.2 485.1h0M238.3 480.1h0M253.6 443.6h0M242.3 494.2h0M236.2 466.4h0M257.0 454.7h0M267.4 475.0h0M232.6 479.7h0M254.0 457.0h0M259.7 561.0h0M256.8 580.2h0M247.4 567.7h0M259.0 582.6h0M242.6 580.6h0M256.0 582.8h0M256.5 577.3h0M265.9 580.0h0M263.0 580.1h0M255.7 561.8h0M265.7 587.1h0M249.9 586.4h0M247.2 588.8h0M248.2 557.6h0M254.3 580.5h0M253.5 556.9h0M248.4 545.7h0M252.0 558.4h0M265.0 561.9h0M262.9 589.4h0M261.9 551.6h0M243.1 562.7h0M246.1 575.5h0M257.8 561.0h0M257.3 570.4h0M257.1 560.9h0M259.6 589.4h0M263.8 578.6h0M240.9 556.5h0M253.0 552.0h0M250.0 579.9h0M251.1 581.1h0M240.9 574.8h0M259.2 589.8h0M266.0 587.7h0M251.7 545.7h0M256.9 553.0h0M246.9 575.2h0M240.4 557.4h0M241.2 555.0h0M259.7 559.6h0M263.6 581.4h0M243.8 555.9h0M265.0 563.6h0M250.8 567.8h0M256.7 547.7h0M258.3 585.9h0M245.3 584.0h0M245.2 581.7h0M252.5 547.0h0M247.7 581.6h0M248.7 586.2h0M255.1 570.1h0M246.0 572.8h0M246.3 559.1h0M262.3 556.8h0M265.1 550.0h0M253.9 549.3h0M240.6 567.8h0M260.4 564.4h0M248.3 586.7h0M253.6 546.9h0M260.9 563.4h0M251.3 555.1h0M264.6 568.3h0M264.7 555.1h0M259.6 545.6h0M242.7 550.9h0M262.9 539.8h0M242.0 536.8h0M248.0 536.3h0M244.2 542.7h0M253.8 538.4h0M251.7 535.9h0M244.8 527.0h0M253.1 533.7h0M252.3 529.1h0M252.2 525.5h0M245.5 533.4h0M262.3 544.0h0M240.6 539.6h0M252.5 531.8h0M243.3 531.4h0M256.9 533.4h0M262.0 528.0h0M247.4 530.4h0M250.4 523.1h0M232.5 525.0h0M238.1 519.7h0M253.7 510.6h0M235.1 507.6h0M229.8 519.3h0M254.7 516.0h0M239.2 507.8h0M224.5 512.7h0M265.6 520.6h0M261.5 507.7h0M215.9 518.8h0M217.9 511.3h0M231.2 547.2h0M222.6 560.7h0M221.9 548.4h0M224.2 580.4h0M239.9 540.4h0M224.3 587.9h0M217.3 572.4h0M216.3 568.6h0M238.5 551.8h0M228.2 546.6h0M220.6 569.8h0M227.6 588.1h0M234.2 543.9h0M219.4 563.8h0M229.0 557.8h0M226.0 564.8h0M217.5 540.2h0M239.4 560.8h0M221.0 548.6h0M222.7 562.8h0M233.9 584.0h0M218.5 574.6h0M234.8 558.5h0M218.6 568.1h0M238.0 582.5h0M229.9 578.2h0M223.8 548.2h0M229.3 562.2h0M218.6 567.0h0M235.2 569.9h0M216.8 550.6h0M224.8 559.6h0M221.7 586.3h0M235.6 578.7h0M237.7 546.6h0M236.6 568.8h0M199.6 581.6h0M194.8 583.9h0M202.9 562.9h0M191.3 565.0h0M209.4 582.3h0M206.2 553.3h0M209.4 586.8h0M187.6 555.9h0M211.9 567.8h0M185.8 586.5h0M204.4 586.0h0M192.1 576.3h0M213.2 575.1h0M212.4 573.3h0M192.2 577.5h0M192.8 564.1h0M226.0 124.1h0M201.0 153.5h0M244.1 153.1h0M217.8 176.7h0M222.7 196.6h0M238.3 229.0h0M237.6 242.3h0M231.8 250.4h0M253.2 245.9h0M261.5 255.9h0M228.2 273.6h0M249.9 270.7h0M238.7 280.9h0M247.7 287.0h0M177.1 311.1h0M190.6 307.1h0M212.4 306.6h0M207.5 332.5h0M257.2 332.3h0M258.2 341.6h0M223.6 351.9h0M249.5 354.6h0M252.3 355.2h0M241.6 376.5h0M228.2 386.5h0M261.8 392.1h0M264.4 390.2h0M267.7 387.6h0M271.6 388.9h0M261.2 393.4h0M212.3 396.4h0M232.5 395.4h0M240.7 395.8h0M268.3 398.0h0M283.1 399.7h0M277.5 402.3h0M247.5 400.6h0M248.8 405.2h0M202.8 402.9h0M153.0 405.8h0M128.0 411.7h0M260.5 403.6h0M257.9 409.7h0M265.7 407.8h0M234.9 408.0h0M234.9 414.9h0M280.1 419.1h0M239.7 423.4h0M246.2 425.8h0M257.7 422.8h0M270.3 421.8h0M267.7 425.4h0M221.2 431.2h0M247.9 432.5h0M148.2 434.9h0M131.2 437.7h0M268.3 444.9h0M284.0 443.0h0M289.9 446.6h0M252.4 448.2h0M235.1 446.2h0M239.0 447.5h0M241.6 454.0h0M243.6 453.4h0M284.0 451.4h0M288.5 456.0h0M259.9 455.3h0M263.1 457.9h0M268.3 458.6h0M274.2 458.6h0M278.1 458.6h0M280.7 457.9h0M228.6 463.8h0M241.6 462.5h0M245.5 465.1h0M250.1 462.5h0M287.9 461.9h0M158.5 476.8h0M227.3 478.1h0M158.6 477.5h0M168.9 497.9h0M202.2 510.3h0M187.2 514.3h0M137.0 521.4h0M156.2 519.0h0M171.6 518.0h0M172.8 516.9h0M139.3 533.5h0M170.2 530.8h0M203.2 532.3h0M150.6 541.7h0M158.3 543.9h0M176.9 544.7h0M194.3 544.1h0M159.8 549.8h0M168.0 551.6h0M180.5 555.4h0M208.9 551.8h0M211.3 551.8h0M158.0 558.7h0M164.5 560.7h0M135.8 562.1h0M173.7 563.7h0M201.8 560.7h0M201.8 564.3h0M152.9 570.4h0M164.3 573.7h0M181.7 569.6h0M192.9 569.0h0M195.3 571.4h0M204.8 573.7h0M208.3 574.9h0M162.1 581.1h0M158.3 586.5h0M170.4 582.0h0M174.0 580.8h0M172.2 585.6h0M184.0 577.3h0M187.0 582.0h0M183.4 587.4h0M191.7 578.5h0M193.0 584.2h0M197.6 579.6h0M198.8 584.4h0M202.4 587.9h0M207.1 584.4h0M222.0 586.8h0M223.7 589.1h0M215.0 556.0h0M218.0 566.0h0M214.0 578.0h0M126.0 558.0h0M142.0 548.0h0M147.0 566.0h0M132.0 575.0h0M189.5 536.0h0M197.0 524.0h0" stroke="#008a33" stroke-width="4.6" stroke-linecap="square" fill="none"/><path d="M109.5 70V626.5M102 626.5H598" stroke="#adadad" stroke-width="2.2" fill="none"/><path d="M102 625.8H109.5M102 556.5H109.5M102 487.2H109.5M102 417.9H109.5M102 348.6H109.5M102 279.3H109.5M102 210.0H109.5M102 140.7H109.5M102 71.4H109.5M143.5 626.5V633M234.1 626.5V633M324.7 626.5V633M415.3 626.5V633M505.9 626.5V633M596.5 626.5V633" stroke="#adadad" stroke-width="2.2" fill="none"/><text x="82.2" y="628.6" font-size="19.5" fill="#1e1e1e">0</text><text x="69.7" y="561.3" font-size="19.5" fill="#1e1e1e">2.5</text><text x="80.1" y="492.0" font-size="19.5" fill="#1e1e1e">5</text><text x="71.4" y="422.7" font-size="19.5" fill="#1e1e1e">7.5</text><text x="74.8" y="353.4" font-size="19.5" fill="#1e1e1e">10</text><text x="64.4" y="284.1" font-size="19.5" fill="#1e1e1e">12.5</text><text x="72.2" y="214.8" font-size="19.5" fill="#1e1e1e">15</text><text x="63.8" y="145.5" font-size="19.5" fill="#1e1e1e">17.5</text><text x="70.8" y="76.2" font-size="19.5" fill="#1e1e1e">20</text><text x="129.9" y="654" font-size="19.5" fill="#1e1e1e">-5</text><text x="214.9" y="654" font-size="19.5" fill="#1e1e1e">-2.5</text><text x="313.4" y="654" font-size="19.5" fill="#1e1e1e">0</text><text x="399.0" y="654" font-size="19.5" fill="#1e1e1e">2.5</text><text x="494.0" y="654" font-size="19.5" fill="#1e1e1e">5</text><text x="580.7" y="654" font-size="19.5" fill="#1e1e1e">7.5</text><text x="320" y="679.3" font-size="21.5" letter-spacing="0.6" fill="#1e1e1e">Log2FC</text><text transform="translate(51.5,342) rotate(-90)" text-anchor="middle" font-size="22" letter-spacing="0.25" fill="#1e1e1e">-Log10(Pvalue)</text><text x="452" y="44.6" font-size="21.5" fill="#1e1e1e">Genes</text><text x="491" y="67.4" font-size="20" letter-spacing="0.12" fill="#1e1e1e">Up DEG (BF/PM)</text><text x="490" y="89.7" font-size="20" letter-spacing="0.12" fill="#1e1e1e">P&lt;0.05 &amp; FC&gt;1.5;</text><text x="490" y="122" font-size="20" letter-spacing="0.12" fill="#1e1e1e">Number=1575</text><text x="493.5" y="155.6" font-size="20" letter-spacing="0.12" fill="#1e1e1e">Down DEG (BF/PM)</text><text x="490" y="182" font-size="20" letter-spacing="0.12" fill="#1e1e1e">P&lt;0.05 &amp; FC&lt;0.67;</text><text x="490" y="219.5" font-size="20" letter-spacing="0.12" fill="#1e1e1e">Number=1306</text><text x="490" y="257" font-size="20" letter-spacing="0.12" fill="#1e1e1e">Nosig</text><path d="M479.7 57.7l3.8 3.8l-3.8 3.8l-3.8-3.8z" fill="#ff1e27"/><rect x="477.5" y="146.1" width="5.8" height="5.8" fill="#008a33"/><circle cx="480" cy="252.7" r="3.2" fill="#838383"/><rect x="286.4" y="544.3" width="66.3" height="18.7" fill="#fff"/><rect x="300.9" y="567.1" width="51.8" height="17.7" fill="#fff"/><rect x="382.4" y="536" width="55.6" height="26.5" fill="#fff"/><rect x="380" y="566.7" width="64.0" height="17.6" fill="#fff"/><rect x="230.1" y="162.3" width="12" height="12" fill="#c8c8c8" stroke="#1a1a1a" stroke-width="2.2"/><rect x="217.7" y="201.3" width="12" height="12" fill="#c8c8c8" stroke="#1a1a1a" stroke-width="2.2"/><rect x="232.5" y="273.3" width="12" height="12" fill="#c8c8c8" stroke="#1a1a1a" stroke-width="2.2"/><rect x="240.8" y="370.3" width="12" height="12" fill="#c8c8c8" stroke="#1a1a1a" stroke-width="2.2"/><rect x="244.2" y="370.3" width="12" height="12" fill="#c8c8c8" stroke="#1a1a1a" stroke-width="2.2"/><rect x="232.9" y="433.7" width="12" height="12" fill="#c8c8c8" stroke="#1a1a1a" stroke-width="2.2"/><rect x="267.5" y="515.2" width="12" height="12" fill="#c8c8c8" stroke="#1a1a1a" stroke-width="2.2"/><path d="M385.7 504.6l6 6l-6 6l-6 -6z" fill="none" stroke="#1a1a1a" stroke-width="2.2"/><path d="M489.8 535.5l6 6l-6 6l-6 -6z" fill="#c8c8c8" stroke="#1a1a1a" stroke-width="2.2"/><path d="M366.0 550.7l5 -5l5 5" fill="none" stroke="#1a1a1a" stroke-width="2"/><path d="M368.5 557.0l5 -5l5 5" fill="none" stroke="#1a1a1a" stroke-width="2"/><path d="M361.0 561.0l5 -5l5 5" fill="none" stroke="#1a1a1a" stroke-width="2"/><path d="M355.3 575.7l5 -5l5 5" fill="none" stroke="#1a1a1a" stroke-width="2"/><text x="248" y="176.1" font-size="19" letter-spacing="0.3" fill="#1e1e1e">TNNC1</text><text x="239.5" y="214.1" font-size="19" letter-spacing="0.3" fill="#1e1e1e">MYL2</text><text x="251.5" y="288.3" font-size="19" letter-spacing="0.3" fill="#1e1e1e">MYH7</text><text x="187" y="381.6" font-size="19" letter-spacing="0.3" fill="#1e1e1e">MYL3</text><text x="261" y="381.6" font-size="19" letter-spacing="0.3" fill="#1e1e1e">TNNI1</text><text x="160.5" y="447.5" font-size="19" letter-spacing="0.3" fill="#1e1e1e">MYH7B</text><text x="216" y="527.9" font-size="19" letter-spacing="0.3" fill="#1e1e1e">PFKL</text><text x="287.5" y="558.9" font-size="19" letter-spacing="0.3" fill="#1e1e1e">TNNC2</text><text x="301.5" y="581.7" font-size="19" letter-spacing="0.3" fill="#1e1e1e">MYL1</text><text x="386.5" y="551.5" font-size="19" letter-spacing="0.3" fill="#1e1e1e">TNNI2</text><text x="381" y="580.3" font-size="19" letter-spacing="0.3" fill="#1e1e1e">ACTN3</text><text x="394.5" y="519.4" font-size="19" letter-spacing="0.3" fill="#1e1e1e">MYBPC2</text><text x="499" y="550" font-size="19" letter-spacing="0.3" fill="#1e1e1e">MYH1</text><path d="M1172.5 619.7H1669.2M1180.6 619.7V627.2M1250.3 619.7V627.2M1320.1 619.7V627.2M1389.8 619.7V627.2M1459.6 619.7V627.2M1529.3 619.7V627.2M1599.1 619.7V627.2M1668.8 619.7V627.2" stroke="#6e6a6a" stroke-width="2" fill="none"/><path d="M1172.8 43.5H1180.8V620.7M1171.8 57.8H1180.8M1171.8 86.6H1180.8M1171.8 115.4H1180.8M1171.8 144.1H1180.8M1171.8 172.9H1180.8M1171.8 201.7H1180.8M1171.8 230.5H1180.8M1171.8 259.3H1180.8M1171.8 288.0H1180.8M1171.8 316.8H1180.8M1171.8 345.6H1180.8M1171.8 374.4H1180.8M1171.8 403.2H1180.8M1171.8 431.9H1180.8M1171.8 460.7H1180.8M1171.8 489.5H1180.8M1171.8 518.3H1180.8M1171.8 547.1H1180.8M1171.8 575.8H1180.8M1171.8 604.6H1180.8" stroke="#2e2a2a" stroke-width="1.8" fill="none"/><text x="1166.8" y="64.0" text-anchor="end" font-size="22" font-weight="bold" fill="#3a3a3a">Proteoglycans in cancer</text><circle cx="1353.3" cy="57.5" r="10.3" fill="#ff6a3d"/><text x="1166.8" y="92.8" text-anchor="end" font-size="22" font-weight="bold" fill="#3a3a3a">Pathways in cancer</text><circle cx="1280.7" cy="86.3" r="13.4" fill="#ff6a3d"/><text x="1166.8" y="121.6" text-anchor="end" font-size="22" font-weight="bold" fill="#3a3a3a">MicroRNAs in cancer</text><circle cx="1367" cy="115.1" r="8.4" fill="#ff6a3d"/><text x="1166.8" y="150.4" text-anchor="end" font-size="22" font-weight="bold" fill="#3a3a3a">PI3K-Akt signaling pathway</text><circle cx="1290.4" cy="143.8" r="12.2" fill="#ff6a3d"/><text x="1166.8" y="179.1" text-anchor="end" font-size="22" font-weight="bold" fill="#3a3a3a">Fc gamma R-mediated phagocytosis</text><circle cx="1357" cy="172.6" r="8.1" fill="#ff6a3d"/><text x="1166.8" y="207.9" text-anchor="end" font-size="22" font-weight="bold" fill="#3a3a3a">Osteoclast differentiation</text><circle cx="1348.9" cy="201.4" r="8.4" fill="#ff6a3d"/><text x="1166.8" y="236.7" text-anchor="end" font-size="22" font-weight="bold" fill="#3a3a3a">Glucagon signaling pathway</text><circle cx="1382.4" cy="230.2" r="6.9" fill="#ff6a3d"/><text x="1166.8" y="265.5" text-anchor="end" font-size="22" font-weight="bold" fill="#3a3a3a">Focal adhesion</text><circle cx="1319.8" cy="259.0" r="9" fill="#ff6a3d"/><text x="1166.8" y="294.3" text-anchor="end" font-size="22" font-weight="bold" fill="#3a3a3a">Pentose phosphate pathway</text><circle cx="1575" cy="287.7" r="4.1" fill="#ff6a3d"/><text x="1166.8" y="323.0" text-anchor="end" font-size="22" font-weight="bold" fill="#3a3a3a">Calcium signaling pathway</text><circle cx="1284.2" cy="316.5" r="10.3" fill="#ff6a3d"/><text x="1166.8" y="351.8" text-anchor="end" font-size="22" font-weight="bold" fill="#3a3a3a">Regulation of actin cytoskeleton</text><circle cx="1299.5" cy="345.3" r="8.4" fill="#e58a48"/><text x="1166.8" y="380.6" text-anchor="end" font-size="22" font-weight="bold" fill="#3a3a3a">Complement and coagulation cascades</text><circle cx="1377.4" cy="374.1" r="5.6" fill="#c4a050"/><text x="1166.8" y="409.4" text-anchor="end" font-size="22" font-weight="bold" fill="#3a3a3a">B cell receptor signaling pathway</text><circle cx="1317.3" cy="402.9" r="7.2" fill="#a8a848"/><text x="1166.8" y="438.2" text-anchor="end" font-size="22" font-weight="bold" fill="#3a3a3a">Pathogenic Escherichia coli infection</text><circle cx="1276.7" cy="431.6" r="9.7" fill="#a8a848"/><text x="1166.8" y="466.9" text-anchor="end" font-size="22" font-weight="bold" fill="#3a3a3a">C-type lectin receptor signaling pathway</text><circle cx="1346.4" cy="460.4" r="6.3" fill="#a8ac48"/><text x="1166.8" y="495.7" text-anchor="end" font-size="22" font-weight="bold" fill="#3a3a3a">Axon guidance</text><circle cx="1303" cy="489.2" r="7.5" fill="#a8b048"/><text x="1166.8" y="524.5" text-anchor="end" font-size="22" font-weight="bold" fill="#3a3a3a">Glycolysis / Gluconeogenesis</text><circle cx="1369" cy="518.0" r="5.6" fill="#a4b048"/><text x="1166.8" y="553.3" text-anchor="end" font-size="22" font-weight="bold" fill="#3a3a3a">Oxytocin signaling pathway</text><circle cx="1311.7" cy="546.8" r="7.5" fill="#a0b048"/><text x="1166.8" y="582.1" text-anchor="end" font-size="22" font-weight="bold" fill="#3a3a3a">Adherens junction</text><circle cx="1370.8" cy="575.5" r="5.3" fill="#78c048"/><text x="1166.8" y="610.8" text-anchor="end" font-size="22" font-weight="bold" fill="#3a3a3a">Phospholipase D signaling pathway</text><circle cx="1288.6" cy="604.3" r="8.1" fill="#60c850"/><text x="1180.6" y="644.7" text-anchor="middle" font-size="19" font-weight="bold" fill="#3a3a3a">0.05</text><text x="1250.3" y="644.7" text-anchor="middle" font-size="19" font-weight="bold" fill="#3a3a3a">0.1</text><text x="1320.1" y="644.7" text-anchor="middle" font-size="19" font-weight="bold" fill="#3a3a3a">0.15</text><text x="1389.8" y="644.7" text-anchor="middle" font-size="19" font-weight="bold" fill="#3a3a3a">0.2</text><text x="1459.6" y="644.7" text-anchor="middle" font-size="19" font-weight="bold" fill="#3a3a3a">0.25</text><text x="1529.3" y="644.7" text-anchor="middle" font-size="19" font-weight="bold" fill="#3a3a3a">0.3</text><text x="1599.1" y="644.7" text-anchor="middle" font-size="19" font-weight="bold" fill="#3a3a3a">0.35</text><text x="1668.8" y="644.7" text-anchor="middle" font-size="19" font-weight="bold" fill="#3a3a3a">0.4</text><text x="1424" y="677" text-anchor="middle" font-size="24.5" font-weight="bold" fill="#3a3a3a">Rich Factor</text><path d="M806.9 1362H1301.7M815.1 1362V1369.5M884.6 1362V1369.5M954.1 1362V1369.5M1023.6 1362V1369.5M1093.1 1362V1369.5M1162.6 1362V1369.5M1232.1 1362V1369.5M1301.6 1362V1369.5" stroke="#4f4a4a" stroke-width="2" fill="none"/><path d="M807.5 761.2H815.5V1363M806.5 774.7H815.5M806.5 804.8H815.5M806.5 834.9H815.5M806.5 865.0H815.5M806.5 895.1H815.5M806.5 925.2H815.5M806.5 955.3H815.5M806.5 985.4H815.5M806.5 1015.5H815.5M806.5 1045.6H815.5M806.5 1075.7H815.5M806.5 1105.8H815.5M806.5 1135.9H815.5M806.5 1166.0H815.5M806.5 1196.1H815.5M806.5 1226.2H815.5M806.5 1256.3H815.5M806.5 1286.4H815.5M806.5 1316.5H815.5M806.5 1346.6H815.5" stroke="#7a7676" stroke-width="1.8" fill="none"/><text x="801.5" y="783.0" text-anchor="end" font-size="23" font-weight="bold" fill="#3a3a3a">Propanoate metabolism</text><circle cx="1207.2" cy="775.9" r="6.6" fill="#ff6a3d"/><text x="801.5" y="813.1" text-anchor="end" font-size="23" font-weight="bold" fill="#3a3a3a">Fatty acid degradation</text><circle cx="1111.5" cy="806.0" r="7.5" fill="#ff6a3d"/><text x="801.5" y="843.2" text-anchor="end" font-size="23" font-weight="bold" fill="#3a3a3a">Valine, leucine and isoleucine degradation</text><circle cx="1071.9" cy="836.1" r="6.9" fill="#ff6a3d"/><text x="801.5" y="873.3" text-anchor="end" font-size="23" font-weight="bold" fill="#3a3a3a">Pyruvate metabolism</text><circle cx="1075.7" cy="866.2" r="5.7" fill="#fa6e3d"/><text x="801.5" y="903.4" text-anchor="end" font-size="23" font-weight="bold" fill="#3a3a3a">PPAR signaling pathway</text><circle cx="1011.9" cy="896.3" r="7.5" fill="#f07845"/><text x="801.5" y="933.5" text-anchor="end" font-size="23" font-weight="bold" fill="#3a3a3a">Butanoate metabolism</text><circle cx="1051.2" cy="926.4" r="5.3" fill="#e58a48"/><text x="801.5" y="963.6" text-anchor="end" font-size="23" font-weight="bold" fill="#3a3a3a">Glycine, serine and threonine metabolism</text><circle cx="1062.5" cy="956.5" r="5" fill="#d89048"/><text x="801.5" y="993.7" text-anchor="end" font-size="23" font-weight="bold" fill="#3a3a3a">Oxidative phosphorylation</text><circle cx="959.2" cy="986.6" r="9.1" fill="#d89048"/><text x="801.5" y="1023.8" text-anchor="end" font-size="23" font-weight="bold" fill="#3a3a3a">Ribosome</text><circle cx="920.6" cy="1016.7" r="13.8" fill="#d09040"/><text x="801.5" y="1053.9" text-anchor="end" font-size="23" font-weight="bold" fill="#3a3a3a">Peroxisome</text><circle cx="981.2" cy="1046.8" r="7.2" fill="#c89e48"/><text x="801.5" y="1084.0" text-anchor="end" font-size="23" font-weight="bold" fill="#3a3a3a">Parkinson disease</text><circle cx="950.7" cy="1076.9" r="9.1" fill="#c0a048"/><text x="801.5" y="1114.1" text-anchor="end" font-size="23" font-weight="bold" fill="#3a3a3a">Cardiac muscle contraction</text><circle cx="982.1" cy="1107.0" r="6.6" fill="#b8a848"/><text x="801.5" y="1144.2" text-anchor="end" font-size="23" font-weight="bold" fill="#3a3a3a">Thermogenesis</text><circle cx="930.9" cy="1137.1" r="10.7" fill="#a0b048"/><text x="801.5" y="1174.3" text-anchor="end" font-size="23" font-weight="bold" fill="#3a3a3a">Glyoxylate and dicarboxylate metabolism</text><circle cx="1067.8" cy="1167.2" r="4.1" fill="#88b848"/><text x="801.5" y="1204.4" text-anchor="end" font-size="23" font-weight="bold" fill="#3a3a3a">Non-alcoholic fatty liver disease</text><circle cx="942.9" cy="1197.3" r="8.5" fill="#5cc850"/><text x="801.5" y="1234.5" text-anchor="end" font-size="23" font-weight="bold" fill="#3a3a3a">Aminoacyl-tRNA biosynthesis</text><circle cx="1013.8" cy="1227.4" r="4.7" fill="#5cc850"/><text x="801.5" y="1264.6" text-anchor="end" font-size="23" font-weight="bold" fill="#3a3a3a">Hypertrophic cardiomyopathy</text><circle cx="963.6" cy="1257.5" r="6.6" fill="#5cc850"/><text x="801.5" y="1294.7" text-anchor="end" font-size="23" font-weight="bold" fill="#3a3a3a">Fatty acid elongation</text><circle cx="1040.5" cy="1287.6" r="4.1" fill="#5cc850"/><text x="801.5" y="1324.8" text-anchor="end" font-size="23" font-weight="bold" fill="#3a3a3a">Huntington disease</text><circle cx="920.6" cy="1317.7" r="11" fill="#5cc850"/><text x="801.5" y="1354.9" text-anchor="end" font-size="23" font-weight="bold" fill="#3a3a3a">Retrograde endocannabinoid signaling</text><circle cx="941.6" cy="1347.8" r="7.5" fill="#5cc850"/><text x="815.1" y="1388.5" text-anchor="middle" font-size="19.5" font-weight="bold" fill="#3a3a3a">0</text><text x="884.6" y="1388.5" text-anchor="middle" font-size="19.5" font-weight="bold" fill="#3a3a3a">0.05</text><text x="954.1" y="1388.5" text-anchor="middle" font-size="19.5" font-weight="bold" fill="#3a3a3a">0.1</text><text x="1023.6" y="1388.5" text-anchor="middle" font-size="19.5" font-weight="bold" fill="#3a3a3a">0.15</text><text x="1093.1" y="1388.5" text-anchor="middle" font-size="19.5" font-weight="bold" fill="#3a3a3a">0.2</text><text x="1162.6" y="1388.5" text-anchor="middle" font-size="19.5" font-weight="bold" fill="#3a3a3a">0.25</text><text x="1232.1" y="1388.5" text-anchor="middle" font-size="19.5" font-weight="bold" fill="#3a3a3a">0.3</text><text x="1301.6" y="1388.5" text-anchor="middle" font-size="19.5" font-weight="bold" fill="#3a3a3a">0.35</text><text x="1058" y="1422" text-anchor="middle" font-size="25.5" font-weight="bold" fill="#3a3a3a">Rich Factor</text><defs><linearGradient id="gB" x1="0" y1="0" x2="0" y2="1"><stop offset="0" stop-color="#00bb10"/><stop offset="0.28" stop-color="#00bb10"/><stop offset="0.43" stop-color="#5aa012"/><stop offset="0.57" stop-color="#9c8a08"/><stop offset="0.71" stop-color="#c87008"/><stop offset="0.86" stop-color="#e85808"/><stop offset="1" stop-color="#ff4000"/></linearGradient></defs><rect x="1575.6" y="106.7" width="27.4" height="137.7" fill="url(#gB)"/><text x="1611.5" y="113.5" font-size="19" font-weight="bold" fill="#3a3a3a">0.0007</text><text x="1611.5" y="133.2" font-size="19" font-weight="bold" fill="#3a3a3a">0.0006</text><text x="1611.5" y="152.9" font-size="19" font-weight="bold" fill="#3a3a3a">0.0005</text><text x="1611.5" y="172.6" font-size="19" font-weight="bold" fill="#3a3a3a">0.0004</text><text x="1611.5" y="192.2" font-size="19" font-weight="bold" fill="#3a3a3a">0.0003</text><text x="1611.5" y="211.9" font-size="19" font-weight="bold" fill="#3a3a3a">0.0002</text><text x="1611.5" y="231.6" font-size="19" font-weight="bold" fill="#3a3a3a">0.0001</text><text x="1611.5" y="251.2" font-size="19" font-weight="bold" fill="#3a3a3a">0</text><path d="M1603.0 106.7h5M1603.0 126.4h5M1603.0 146.1h5M1603.0 165.8h5M1603.0 185.4h5M1603.0 205.1h5M1603.0 224.8h5M1603.0 244.4h5" stroke="#888" stroke-width="1.2"/><text x="1569" y="85.8" font-size="19" font-weight="bold" fill="#3a3a3a"><tspan font-style="italic">P</tspan> adjust</text><defs><linearGradient id="gC" x1="0" y1="0" x2="0" y2="1"><stop offset="0" stop-color="#00bb10"/><stop offset="0.28" stop-color="#00bb10"/><stop offset="0.43" stop-color="#5aa012"/><stop offset="0.57" stop-color="#9c8a08"/><stop offset="0.71" stop-color="#c87008"/><stop offset="0.86" stop-color="#e85808"/><stop offset="1" stop-color="#ff4000"/></linearGradient></defs><rect x="1225.4" y="969.8" width="28.3" height="142.9" fill="url(#gC)"/><text x="1262.2" y="987.9" font-size="19" font-weight="bold" fill="#3a3a3a">0.12</text><text x="1262.2" y="1009.6" font-size="19" font-weight="bold" fill="#3a3a3a">0.1</text><text x="1262.2" y="1031.9" font-size="19" font-weight="bold" fill="#3a3a3a">0.08</text><text x="1262.2" y="1053.9" font-size="19" font-weight="bold" fill="#3a3a3a">0.06</text><text x="1262.2" y="1075.8" font-size="19" font-weight="bold" fill="#3a3a3a">0.04</text><text x="1262.2" y="1097.8" font-size="19" font-weight="bold" fill="#3a3a3a">0.02</text><text x="1262.2" y="1119.5" font-size="19" font-weight="bold" fill="#3a3a3a">0</text><path d="M1253.7 981.1h5M1253.7 1002.8h5M1253.7 1025.1h5M1253.7 1047.1h5M1253.7 1069.0h5M1253.7 1091.0h5M1253.7 1112.7h5" stroke="#888" stroke-width="1.2"/><text x="1218" y="948" font-size="19" font-weight="bold" fill="#3a3a3a"><tspan font-style="italic">P</tspan> adjust</text><text x="1586" y="445" font-size="19" font-weight="bold" fill="#3a3a3a">Number</text><circle cx="1593.5" cy="465.4" r="4.7" fill="#808080"/><text x="1617" y="470.1" font-size="19" font-weight="bold" fill="#3a3a3a">12</text><circle cx="1593.5" cy="494.2" r="8.4" fill="#808080"/><text x="1617" y="498.9" font-size="19" font-weight="bold" fill="#3a3a3a">33</text><circle cx="1593.5" cy="520.5" r="11" fill="#808080"/><text x="1617" y="525.2" font-size="19" font-weight="bold" fill="#3a3a3a">55</text><circle cx="1593.5" cy="552.1" r="13.4" fill="#808080"/><text x="1617" y="556.8" font-size="19" font-weight="bold" fill="#3a3a3a">77</text><text x="1231" y="1206.5" font-size="19" font-weight="bold" fill="#3a3a3a">Number</text><circle cx="1237.4" cy="1228" r="5" fill="#808080"/><text x="1262.5" y="1232.7" font-size="19" font-weight="bold" fill="#3a3a3a">6</text><circle cx="1237.4" cy="1257.8" r="9.4" fill="#808080"/><text x="1262.5" y="1262.5" font-size="19" font-weight="bold" fill="#3a3a3a">17</text><circle cx="1237.4" cy="1285.4" r="11.6" fill="#808080"/><text x="1262.5" y="1290.1" font-size="19" font-weight="bold" fill="#3a3a3a">28</text><circle cx="1237.4" cy="1319" r="13.8" fill="#808080"/><text x="1262.5" y="1323.7" font-size="19" font-weight="bold" fill="#3a3a3a">39</text></svg></div></body></html>
